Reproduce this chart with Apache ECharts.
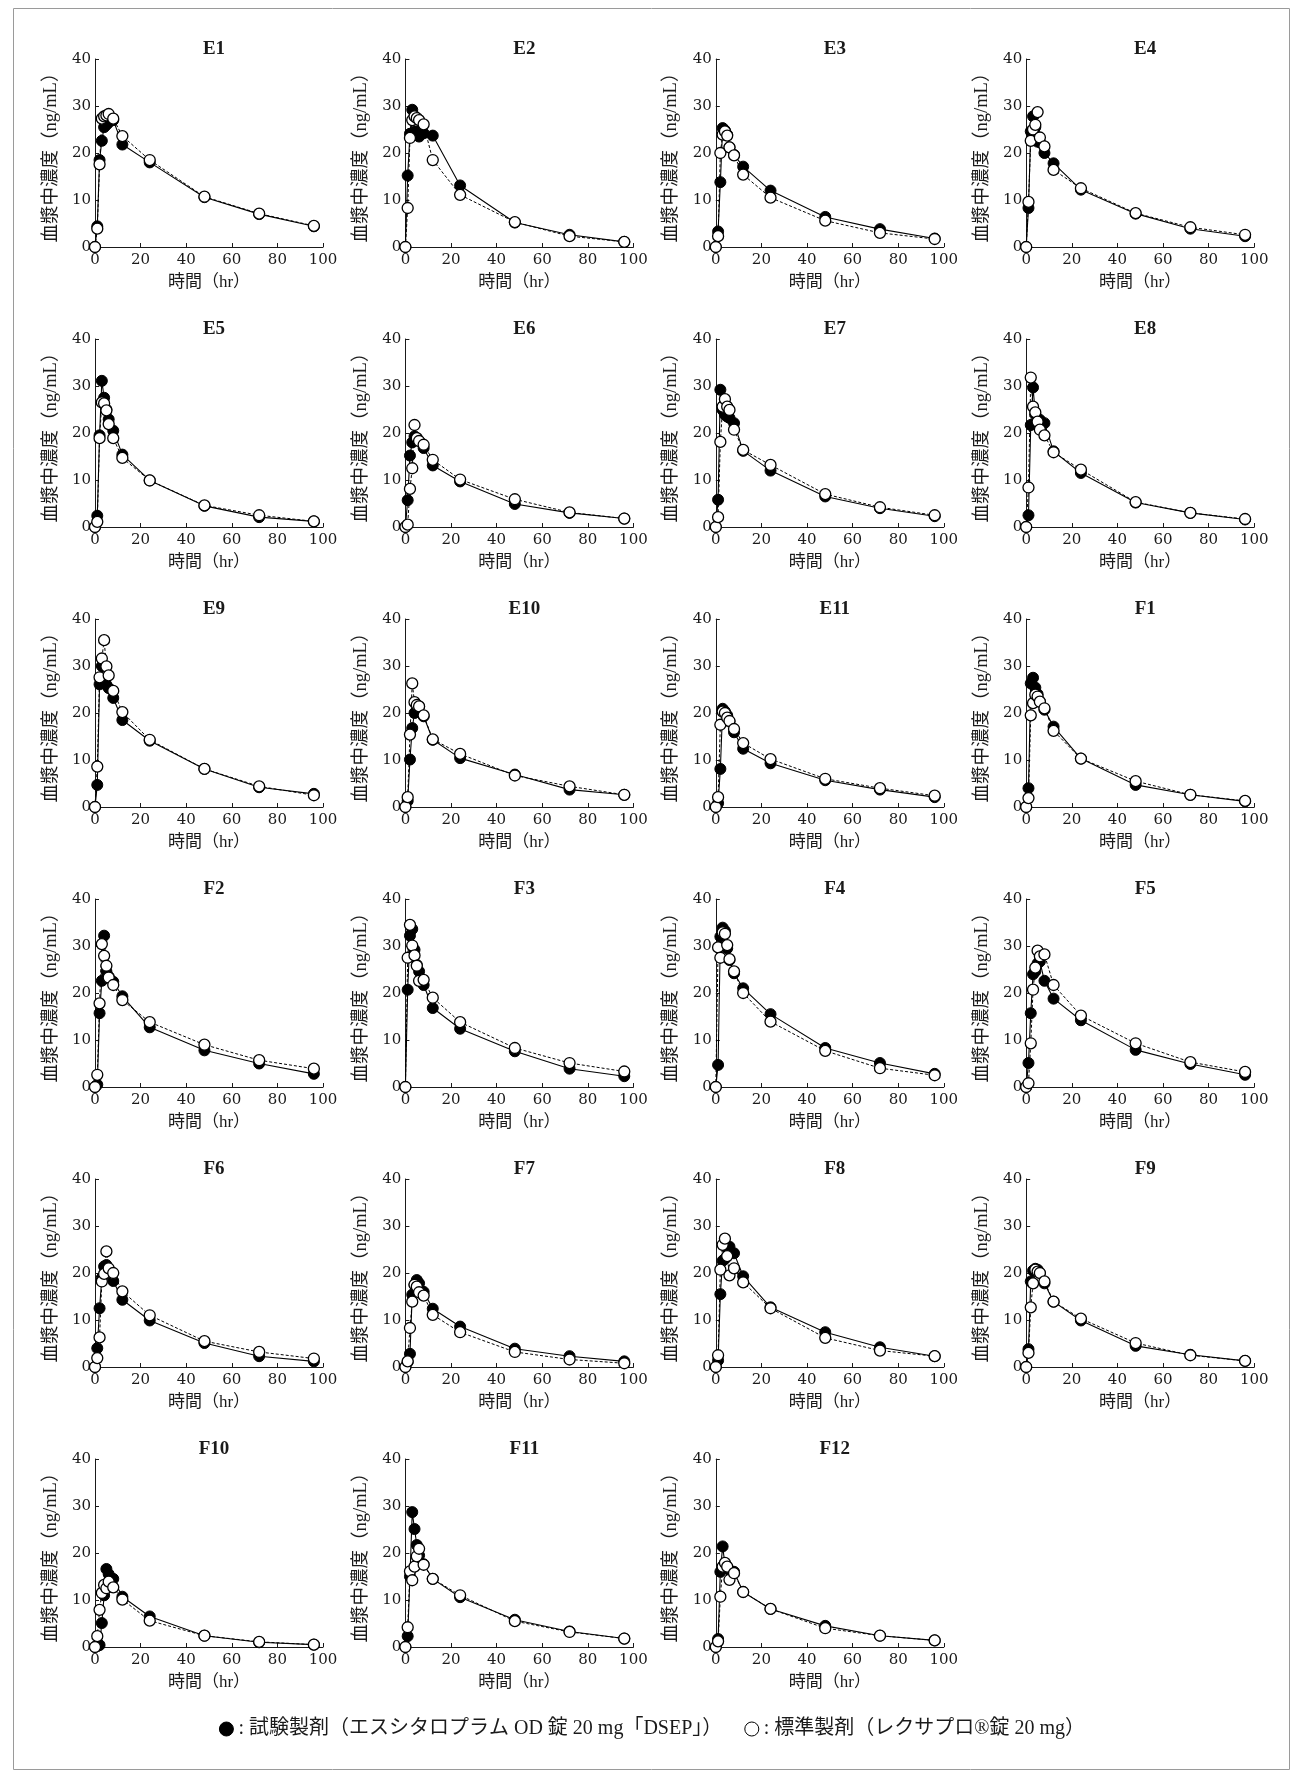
<!DOCTYPE html>
<html>
<head>
<meta charset="utf-8">
<script src="https://cdn.jsdelivr.net/npm/echarts@6/dist/echarts.min.js"></script>
<style>
  html, body { margin: 0; padding: 0; background: #fff; }
  #chart { width: 1304px; height: 1778px; }
</style>
</head>
<body>
<div id="chart"></div>
<script>
// Sampling times (hr)
const hours = [0, 1, 2, 3, 4, 5, 6, 8, 12, 24, 48, 72, 96];

// Plasma concentration (ng/mL) per subject: test formulation / reference formulation
const E1_test  = [0, 4.4, 18.5, 22.6, 25.5, 26.0, 26.5, 27.0, 21.8, 18.0, 10.6, 7.0, 4.4];
const E1_ref   = [0, 3.9, 17.6, 27.3, 27.8, 28.0, 28.3, 27.3, 23.6, 18.5, 10.7, 7.1, 4.5];
const E2_test  = [0, 15.2, 24.1, 29.2, 24.6, 24.5, 23.5, 24.2, 23.7, 13.1, 5.2, 2.6, 1.1];
const E2_ref   = [0, 8.3, 23.2, 27.0, 27.8, 27.4, 27.0, 26.1, 18.5, 11.1, 5.3, 2.3, 1.1];
const E3_test  = [0, 3.3, 13.8, 25.3, 24.8, 23.9, 21.2, 19.6, 17.1, 12.0, 6.4, 3.8, 1.8];
const E3_ref   = [0, 2.3, 20.0, 23.9, 24.6, 23.7, 21.2, 19.5, 15.4, 10.5, 5.6, 3.0, 1.7];
const E4_test  = [0, 8.3, 24.6, 27.8, 25.5, 22.4, 22.3, 20.0, 17.8, 12.2, 7.1, 3.9, 2.3];
const E4_ref   = [0, 9.6, 22.6, 25.0, 26.0, 28.7, 23.3, 21.4, 16.4, 12.5, 7.2, 4.2, 2.6];
const E5_test  = [0, 2.4, 19.5, 31.1, 27.5, 25.0, 22.9, 20.5, 15.4, 9.9, 4.5, 2.1, 1.2];
const E5_ref   = [0, 1.1, 18.9, 26.5, 26.3, 24.8, 21.9, 18.9, 14.7, 9.9, 4.6, 2.5, 1.2];
const E6_test  = [0, 5.7, 15.2, 18.0, 19.3, 18.9, 18.3, 16.8, 13.1, 9.7, 4.9, 3.0, 1.8];
const E6_ref   = [0, 0.5, 8.1, 12.5, 21.7, 18.9, 18.3, 17.5, 14.3, 10.1, 5.9, 3.1, 1.8];
const E7_test  = [0, 5.8, 29.2, 24.9, 23.9, 23.5, 23.2, 22.1, 16.2, 12.0, 6.5, 4.0, 2.3];
const E7_ref   = [0, 2.1, 18.1, 25.6, 27.2, 25.6, 24.9, 20.7, 16.4, 13.2, 7.0, 4.2, 2.5];
const E8_test  = [0, 2.5, 21.7, 29.7, 24.0, 22.0, 22.8, 22.1, 16.1, 11.5, 5.2, 3.0, 1.6];
const E8_ref   = [0, 8.4, 31.8, 25.6, 24.4, 22.4, 20.7, 19.5, 15.9, 12.2, 5.3, 3.0, 1.7];
const E9_test  = [0, 4.7, 26.1, 30.0, 26.5, 26.0, 25.3, 23.2, 18.5, 14.1, 8.1, 4.2, 2.8];
const E9_ref   = [0, 8.6, 27.6, 31.6, 35.5, 29.9, 28.0, 24.7, 20.2, 14.3, 8.1, 4.4, 2.5];
const E10_test = [0, 1.3, 10.1, 16.8, 20.0, 21.7, 21.4, 19.3, 14.3, 10.4, 6.9, 3.7, 2.6];
const E10_ref  = [0, 2.1, 15.4, 26.3, 22.3, 21.7, 21.4, 19.5, 14.4, 11.3, 6.7, 4.4, 2.6];
const E11_test = [0, 0.8, 8.1, 20.9, 20.3, 19.5, 18.2, 15.9, 12.4, 9.3, 5.7, 3.7, 2.1];
const E11_ref  = [0, 2.1, 17.5, 20.3, 20.0, 19.0, 18.3, 16.6, 13.6, 10.2, 6.0, 4.0, 2.4];
const F1_test  = [0, 4.0, 26.3, 27.5, 25.4, 24.0, 22.4, 20.7, 17.1, 10.3, 4.7, 2.6, 1.2];
const F1_ref   = [0, 1.9, 19.5, 22.1, 23.9, 23.5, 22.4, 21.0, 16.2, 10.3, 5.5, 2.6, 1.3];
const F2_test  = [0, 0.5, 15.7, 22.6, 32.2, 24.6, 23.5, 22.4, 19.3, 12.7, 7.8, 5.0, 2.8];
const F2_ref   = [0, 2.6, 17.8, 30.4, 27.9, 25.8, 23.3, 21.7, 18.5, 13.8, 9.0, 5.7, 3.9];
const F3_test  = [0, 20.7, 32.2, 33.6, 29.2, 26.0, 24.6, 21.7, 16.8, 12.4, 7.6, 3.9, 2.3];
const F3_ref   = [0, 27.5, 34.5, 30.1, 28.0, 25.8, 22.6, 22.8, 19.0, 13.8, 8.3, 5.1, 3.3];
const F4_test  = [0, 4.7, 32.0, 33.9, 33.2, 29.5, 27.0, 24.2, 21.0, 15.5, 8.3, 5.1, 2.8];
const F4_ref   = [0, 29.7, 27.5, 32.9, 32.6, 30.2, 27.2, 24.6, 20.0, 13.9, 7.7, 4.0, 2.5];
const F5_test  = [0, 5.1, 15.7, 24.0, 24.6, 26.3, 26.7, 22.6, 18.8, 14.2, 7.9, 4.9, 2.6];
const F5_ref   = [0, 0.8, 9.3, 20.7, 25.4, 29.0, 27.8, 28.2, 21.7, 15.2, 9.3, 5.3, 3.2];
const F6_test  = [0, 4.0, 12.5, 19.0, 21.4, 21.7, 20.7, 18.3, 14.3, 9.9, 5.1, 2.3, 1.2];
const F6_ref   = [0, 1.9, 6.3, 18.2, 19.8, 24.6, 21.0, 20.0, 16.1, 11.0, 5.5, 3.2, 1.8];
const F7_test  = [0, 1.1, 2.8, 15.4, 17.5, 18.5, 17.8, 16.0, 12.4, 8.6, 3.9, 2.3, 1.2];
const F7_ref   = [0, 1.2, 8.3, 13.9, 17.5, 17.1, 15.9, 15.2, 11.1, 7.4, 3.2, 1.6, 0.8];
const F8_test  = [0, 1.4, 15.5, 22.6, 23.0, 25.3, 25.6, 24.2, 19.3, 12.7, 7.4, 4.2, 2.3];
const F8_ref   = [0, 2.5, 20.7, 26.0, 27.3, 23.6, 19.5, 21.0, 18.0, 12.5, 6.2, 3.5, 2.3];
const F9_test  = [0, 3.8, 18.2, 20.5, 20.9, 20.7, 20.0, 17.8, 13.9, 9.9, 4.5, 2.6, 1.3];
const F9_ref   = [0, 3.0, 12.7, 17.8, 20.7, 20.3, 20.0, 18.2, 13.9, 10.3, 5.1, 2.5, 1.3];
const F10_test = [0, 0.2, 0.4, 5.1, 11.0, 16.6, 15.5, 14.5, 10.7, 6.5, 2.4, 1.0, 0.5];
const F10_ref  = [0, 2.3, 7.9, 11.5, 13.2, 12.5, 13.9, 12.7, 10.1, 5.6, 2.4, 1.1, 0.5];
const F11_test = [0, 2.3, 15.0, 28.7, 25.1, 21.7, 19.5, 17.6, 14.5, 10.6, 5.8, 3.3, 1.8];
const F11_ref  = [0, 4.2, 16.1, 14.2, 17.1, 19.3, 20.9, 17.5, 14.5, 11.0, 5.5, 3.2, 1.8];
const F12_test = [0, 1.7, 16.0, 21.4, 17.6, 17.0, 16.4, 16.0, 11.7, 8.1, 4.5, 2.4, 1.4];
const F12_ref  = [0, 1.2, 10.7, 17.1, 17.9, 17.1, 14.3, 15.7, 11.7, 8.1, 4.0, 2.4, 1.4];

const subjects = [
  ['E1', E1_test, E1_ref], ['E2', E2_test, E2_ref], ['E3', E3_test, E3_ref], ['E4', E4_test, E4_ref],
  ['E5', E5_test, E5_ref], ['E6', E6_test, E6_ref], ['E7', E7_test, E7_ref], ['E8', E8_test, E8_ref],
  ['E9', E9_test, E9_ref], ['E10', E10_test, E10_ref], ['E11', E11_test, E11_ref], ['F1', F1_test, F1_ref],
  ['F2', F2_test, F2_ref], ['F3', F3_test, F3_ref], ['F4', F4_test, F4_ref], ['F5', F5_test, F5_ref],
  ['F6', F6_test, F6_ref], ['F7', F7_test, F7_ref], ['F8', F8_test, F8_ref], ['F9', F9_test, F9_ref],
  ['F10', F10_test, F10_ref], ['F11', F11_test, F11_ref], ['F12', F12_test, F12_ref]
];

const testName = '試験製剤（エスシタロプラム OD 錠 20 mg「DSEP」）';
const refName = '標準製剤（レクサプロ®錠 20 mg）';
const xAxisTitle = '時間（hr）';
const yAxisTitle = '血漿中濃度（ng/mL）';

// Panel layout
const COLS = 4;
const GRID_LEFT0 = 95, COL_STEP = 310.4, GRID_W = 228;
const GRID_TOP0 = 59, ROW_STEP = 280, GRID_H = 188;
const FONT = '"Liberation Serif", "Noto Sans CJK JP", serif';
const NUM_FONT = '"DejaVu Serif", "Liberation Serif", serif';
const INK = '#1a1a1a';

const grids = [], xAxes = [], yAxes = [], series = [], titles = [];

subjects.forEach(([id, test, ref], i) => {
  const col = i % COLS, row = Math.floor(i / COLS);
  const left = GRID_LEFT0 + COL_STEP * col;
  const top = GRID_TOP0 + ROW_STEP * row;
  grids.push({ left: left, top: top, width: GRID_W, height: GRID_H, containLabel: false });

  titles.push({
    text: id,
    left: left + GRID_W / 2,
    top: top - 24,
    textAlign: 'center',
    textStyle: { fontFamily: FONT, fontWeight: 'bold', fontSize: 19, color: INK }
  });

  xAxes.push({
    type: 'value', gridIndex: i, min: 0, max: 100, interval: 20,
    name: xAxisTitle, nameLocation: 'middle', nameGap: 27,
    nameTextStyle: { fontFamily: FONT, fontSize: 17, color: INK },
    axisLine: { show: true, onZero: false, lineStyle: { color: INK, width: 1 } },
    axisTick: { show: true, inside: true, length: 4, lineStyle: { color: INK } },
    axisLabel: { fontFamily: NUM_FONT, fontSize: 15, color: INK, margin: 6 },
    splitLine: { show: false }
  });

  yAxes.push({
    type: 'value', gridIndex: i, min: 0, max: 40, interval: 10,
    name: yAxisTitle, nameLocation: 'middle', nameRotate: 90, nameGap: 35,
    nameTextStyle: { fontFamily: FONT, fontSize: 18.5, color: INK },
    axisLine: { show: true, onZero: false, lineStyle: { color: INK, width: 1 } },
    axisTick: { show: true, inside: true, length: 4, lineStyle: { color: INK } },
    axisLabel: { fontFamily: NUM_FONT, fontSize: 15, color: INK, margin: 4 },
    splitLine: { show: false }
  });

  const toPoints = vals => hours.map((h, k) => [h, vals[k]]);

  series.push({
    name: testName, type: 'line', xAxisIndex: i, yAxisIndex: i,
    data: toPoints(test), clip: false,
    symbol: 'circle', symbolSize: 11, showAllSymbol: true,
    lineStyle: { color: '#000', width: 1.1 },
    itemStyle: { color: '#000', borderColor: '#000', borderWidth: 1 },
    z: 2
  });
  series.push({
    name: refName, type: 'line', xAxisIndex: i, yAxisIndex: i,
    data: toPoints(ref), clip: false,
    symbol: 'circle', symbolSize: 11, showAllSymbol: true,
    lineStyle: { color: '#000', width: 1, type: [3, 2] },
    itemStyle: { color: '#fff', borderColor: '#000', borderWidth: 1.3 },
    z: 3
  });
});

const chart = echarts.init(document.getElementById('chart'), null, { renderer: 'canvas' });
chart.setOption({
  animation: false,
  backgroundColor: '#fff',
  title: titles,
  grid: grids,
  xAxis: xAxes,
  yAxis: yAxes,
  series: series,
  legend: {
    data: [
      { name: testName, icon: 'circle', itemStyle: { color: '#000', borderColor: '#000', borderWidth: 1 } },
      { name: refName, icon: 'circle', itemStyle: { color: '#fff', borderColor: '#000', borderWidth: 1 } }
    ],
    left: 'center',
    top: 1714,
    itemWidth: 14,
    itemHeight: 14,
    itemGap: 22,
    formatter: name => ': ' + name,
    selectedMode: false,
    textStyle: { fontFamily: FONT, fontSize: 20, color: INK }
  },
  graphic: [{
    type: 'rect',
    shape: { x: 13.5, y: 8.5, width: 1276, height: 1761 },
    style: { fill: 'none', stroke: '#9a9a9a', lineWidth: 1 },
    silent: true
  }]
});
</script>
</body>
</html>
